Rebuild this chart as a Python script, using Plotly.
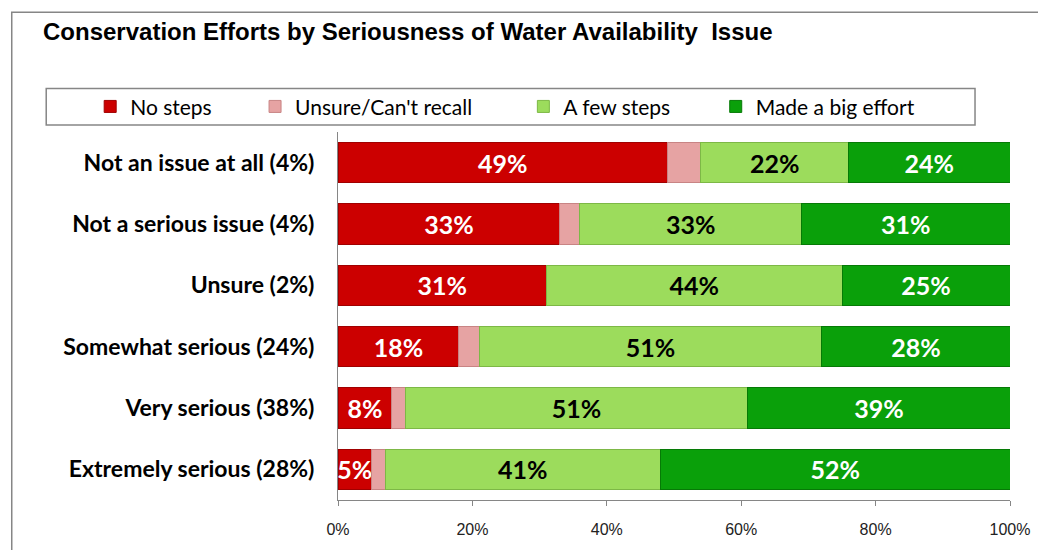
import plotly.graph_objects as go

# Stacked shares (%) per seriousness level, top row first
categories = [
    "Not an issue at all (4%)",
    "Not a serious issue (4%)",
    "Unsure (2%)",
    "Somewhat serious (24%)",
    "Very serious (38%)",
    "Extremely serious (28%)",
]
no_steps = [49, 33, 31, 18, 8, 5]
unsure = [5, 3, 0, 3, 2, 2]
few_steps = [22, 33, 44, 51, 51, 41]
big_effort = [24, 31, 25, 28, 39, 52]

tick_vals = [0, 20, 40, 60, 80, 100]
tick_text = ["0%", "20%", "40%", "60%", "80%", "100%"]

series = [
    ("No steps", no_steps, "#CC0000", "#A00000", "white", True, "legend"),
    ("Unsure/Can't recall", unsure, "#E6A3A3", "#C88484", "white", False, "legend2"),
    ("A few steps", few_steps, "#9CDC5C", "#7DB846", "black", True, "legend3"),
    ("Made a big effort", big_effort, "#0AA00A", "#067A06", "white", True, "legend4"),
]

# the page body adds an 8px margin, so the figure is 8px smaller than the window
OFF = 8
W, H = 1046 - OFF, 550 - OFF
# plot area in window pixels
L, R, T, B = 337.5, 1010, 132, 504


def px_x(px):
    return (px - L) / (R - L)


def px_y(py):
    return (B - py) / (B - T)


fig = go.Figure()
for name, vals, color, edge, tcolor, labelled, leg in series:
    fig.add_trace(go.Bar(
        name=name,
        y=categories,
        x=vals,
        orientation="h",
        marker=dict(color=color, line=dict(color=edge, width=1)),
        text=[f"{v}%" for v in vals] if labelled else None,
        textposition="inside" if labelled else "none",
        insidetextanchor="middle",
        textangle=0,
        constraintext="none",
        textfont=dict(family="Lato", size=25, color=tcolor, weight="bold"),
        legend=leg,
        hoverinfo="x+y+name",
    ))

legend_style = dict(
    orientation="h",
    yanchor="middle",
    y=px_y(106.5),
    xanchor="left",
    bgcolor="rgba(0,0,0,0)",
    borderwidth=0,
    font=dict(family="Lato", size=21, color="black"),
)
# centre of each legend swatch in the reference
swatch_x = {"legend": 112, "legend2": 277, "legend3": 545.5, "legend4": 738}
legends = {k: dict(legend_style, x=px_x(v - 22.5)) for k, v in swatch_x.items()}

fig.update_layout(
    width=W,
    height=H,
    barmode="stack",
    bargap=0.34,
    plot_bgcolor="white",
    paper_bgcolor="white",
    margin=dict(l=L - OFF, r=W - (R - OFF), t=T - OFF, b=H - (B - OFF), pad=0),
    showlegend=True,
    **legends,
    xaxis=dict(
        range=[0, 100],
        tickvals=tick_vals,
        ticktext=tick_text,
        ticks="outside",
        ticklen=5,
        tickcolor="#868686",
        showline=True,
        linecolor="#868686",
        showgrid=False,
        zeroline=False,
        ticklabelstandoff=10,
        tickfont=dict(family="Liberation Sans", size=16, color="#222222"),
        fixedrange=True,
    ),
    yaxis=dict(
        categoryorder="array",
        categoryarray=categories,
        autorange="reversed",
        showline=True,
        linecolor="#868686",
        ticks="",
        showgrid=False,
        ticklabelstandoff=18,
        tickfont=dict(family="Lato", size=23, color="black", weight="bold"),
        fixedrange=True,
    ),
    annotations=[dict(
        text="<b>Conservation Efforts by Seriousness of Water Availability\u00a0 Issue</b>",
        xref="paper", yref="paper",
        x=px_x(40), y=px_y(30),
        xanchor="left", yanchor="middle",
        showarrow=False,
        font=dict(family="Liberation Sans", size=24, color="black"),
    )],
    shapes=[
        # outer chart border
        dict(type="rect", xref="paper", yref="paper",
             x0=px_x(11), x1=px_x(1042.5), y0=px_y(580), y1=px_y(11),
             line=dict(color="#868686", width=1.5), layer="below"),
        # legend box
        dict(type="rect", xref="paper", yref="paper",
             x0=px_x(45.5), x1=px_x(975), y0=px_y(125), y1=px_y(88),
             line=dict(color="#868686", width=1.5), layer="below"),
    ],
)

fig.write_html("out.html")
